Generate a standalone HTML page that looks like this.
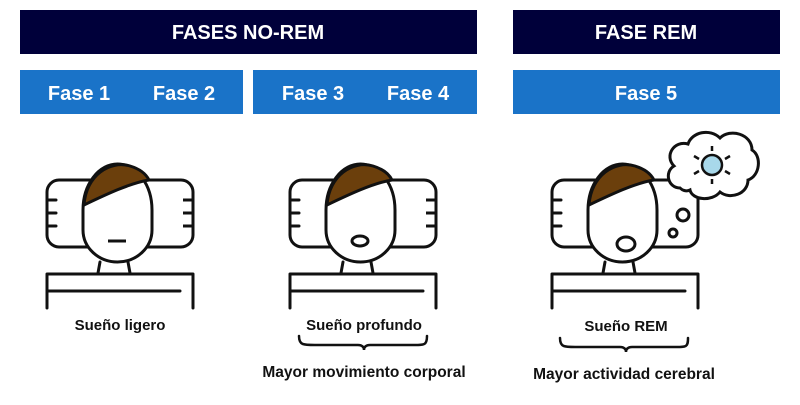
<!DOCTYPE html><html><head><style>body{margin:0;background:#fff;width:800px;height:400px;overflow:hidden}</style></head><body>
<svg width="800" height="400" xmlns="http://www.w3.org/2000/svg" font-family="Liberation Sans, sans-serif" font-weight="bold">
<defs>
<g id="fig" fill="none" stroke="#111" stroke-width="3" stroke-linecap="round" stroke-linejoin="round">
<rect x="47" y="180" width="146" height="67" rx="12" fill="#fff"/>
<path d="M47 200h9M47 213h9M47 226h9"/>
<path d="M83 210 A34.5 46 0 0 1 152 210 V230 A34.5 32 0 0 1 83 230 Z" fill="#fff"/>
<path d="M100 262 L98 273 M128 262 L130 273"/>
<path d="M47 308 V274 H193 V308 M47 291 H180"/>
</g>
</defs>
<rect x="20" y="10" width="457" height="44" fill="#00003a"/>
<rect x="513" y="10" width="267" height="44" fill="#00003a"/>
<rect x="20" y="70" width="223" height="44" fill="#1a73c8"/>
<rect x="253" y="70" width="224" height="44" fill="#1a73c8"/>
<rect x="513" y="70" width="267" height="44" fill="#1a73c8"/>
<g fill="#fff" font-size="20" text-anchor="middle">
<text x="248" y="39">FASES NO-REM</text><text x="646" y="39">FASE REM</text>
<text x="79" y="100">Fase 1</text><text x="184" y="100">Fase 2</text>
<text x="313" y="100">Fase 3</text><text x="418" y="100">Fase 4</text>
<text x="646" y="100">Fase 5</text>
</g>
<use href="#fig"/>
<path d="M84 205 C86 175 110 160 130 166 C140 169 146 174 149 180 C130 183 105 195 84 205Z" fill="#6b3f0c" stroke="#111" stroke-width="3"/>
<path d="M108 241H126" stroke="#111" stroke-width="3"/>
<path d="M183 200h10M183 213h10M183 226h10" stroke="#111" stroke-width="3"/>
<g transform="translate(243,0)">
<use href="#fig"/>
<path d="M84 205 C86 175 110 160 130 166 C140 169 146 174 149 180 C130 183 105 195 84 205Z" fill="#6b3f0c" stroke="#111" stroke-width="3"/>
<ellipse cx="117" cy="241" rx="8" ry="5" fill="none" stroke="#111" stroke-width="3"/>
<path d="M183 200h10M183 213h10M183 226h10" stroke="#111" stroke-width="3"/>
</g>
<g transform="translate(505,0)">
<use href="#fig"/>
<path d="M84 205 C86 175 110 160 130 166 C140 169 146 174 149 180 C130 183 105 195 84 205Z" fill="#6b3f0c" stroke="#111" stroke-width="3"/>
<ellipse cx="121" cy="244" rx="9" ry="7" fill="none" stroke="#111" stroke-width="3"/>
<circle cx="178" cy="215" r="6" fill="none" stroke="#111" stroke-width="3"/>
<circle cx="168" cy="233" r="4" fill="none" stroke="#111" stroke-width="3"/>
</g>
<path d="M680 188 C668 188 664 172 674 166 C664 156 674 140 688 144 C692 132 710 128 720 138 C730 128 752 134 752 150 C762 156 760 176 748 180 C748 194 730 200 720 192 C712 202 692 200 690 190 C686 192 682 190 680 188Z" fill="#fff" stroke="#111" stroke-width="3"/>
<circle cx="712" cy="165" r="10" fill="#a8d8ea" stroke="#111" stroke-width="2.5"/>
<path d="M712 146v5M712 179v5M694 156l5 3M725 171l5 3M694 174l5 -3M725 159l5 -3" stroke="#111" stroke-width="2.5"/>
<g fill="#111" text-anchor="middle" font-size="15">
<text x="120" y="330">Sueño ligero</text>
<text x="364" y="330">Sueño profundo</text>
<text x="626" y="331">Sueño REM</text>
<text x="364" y="377" font-size="15.5">Mayor movimiento corporal</text>
<text x="624" y="379" font-size="15.5">Mayor actividad cerebral</text>
</g>
<g fill="none" stroke="#111" stroke-width="2.5" stroke-linecap="round">
<path d="M299 336 C299 346 304 345 320 345 H358 C362 345 364 347 364 350 C364 347 366 345 370 345 H410 C424 345 427 346 427 336"/>
<path d="M560 338 C560 348 565 347 580 347 H620 C624 347 626 349 626 352 C626 349 628 347 632 347 H672 C686 347 688 348 688 338"/>
</g>
</svg>
</body></html>
